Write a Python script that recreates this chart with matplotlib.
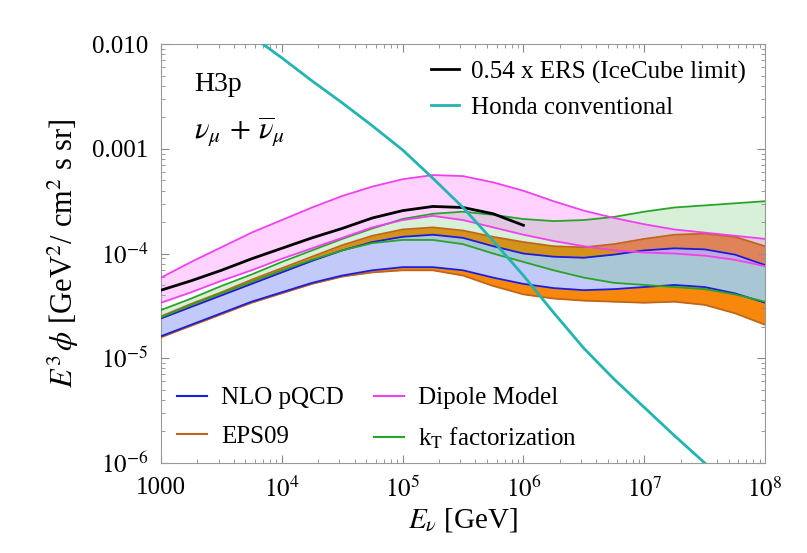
import numpy as np
import matplotlib
matplotlib.use("Agg")
import matplotlib.pyplot as plt
from matplotlib.lines import Line2D

plt.rcParams['font.family'] = ['Liberation Serif', 'DejaVu Serif']
plt.rcParams['mathtext.fontset'] = 'stix'

# log10 of neutrino energy [GeV] where the curves were read
log_e = [3.0, 3.25, 3.5, 3.75, 4.0, 4.25, 4.5, 4.75, 5.0, 5.25, 5.5,
         5.75, 6.0, 6.25, 6.5, 6.75, 7.0, 7.25, 7.5, 7.75, 8.0]

# log10 of E^3 phi for each band edge
nlo_hi = [-4.62, -4.51, -4.40, -4.29, -4.18, -4.07, -3.97, -3.89, -3.84, -3.82, -3.85,
          -3.93, -4.00, -4.03, -4.04, -4.01, -3.97, -3.95, -3.96, -4.01, -4.11]
nlo_lo = [-4.79, -4.68, -4.57, -4.46, -4.37, -4.28, -4.21, -4.16, -4.13, -4.13, -4.16,
          -4.23, -4.29, -4.33, -4.35, -4.34, -4.32, -4.30, -4.32, -4.38, -4.47]
eps_hi = [-4.60, -4.48, -4.37, -4.25, -4.14, -4.03, -3.92, -3.83, -3.77, -3.75, -3.78,
          -3.84, -3.89, -3.93, -3.94, -3.91, -3.86, -3.82, -3.81, -3.84, -3.93]
eps_lo = [-4.80, -4.69, -4.58, -4.47, -4.38, -4.29, -4.22, -4.18, -4.16, -4.16, -4.21,
          -4.31, -4.39, -4.43, -4.45, -4.46, -4.47, -4.46, -4.49, -4.57, -4.68]
dip_hi = [-4.23, -4.08, -3.94, -3.80, -3.68, -3.56, -3.45, -3.36, -3.29, -3.25, -3.26,
          -3.32, -3.40, -3.50, -3.59, -3.66, -3.72, -3.77, -3.80, -3.83, -3.86]
dip_lo = [-4.47, -4.37, -4.26, -4.16, -4.05, -3.95, -3.85, -3.75, -3.68, -3.64, -3.68,
          -3.75, -3.82, -3.88, -3.93, -3.97, -3.99, -4.00, -4.02, -4.06, -4.12]
kt_hi = [-4.54, -4.43, -4.31, -4.20, -4.08, -3.97, -3.86, -3.76, -3.67, -3.62, -3.60,
         -3.63, -3.67, -3.69, -3.68, -3.65, -3.60, -3.56, -3.54, -3.52, -3.50]
kt_lo = [-4.61, -4.49, -4.38, -4.27, -4.16, -4.06, -3.97, -3.90, -3.87, -3.87, -3.91,
         -4.00, -4.08, -4.16, -4.23, -4.28, -4.30, -4.32, -4.34, -4.39, -4.46]

# 0.54 x ERS, only up to 1e6 GeV
ers_log_e = [3.0, 3.25, 3.5, 3.75, 4.0, 4.25, 4.5, 4.75, 5.0, 5.25, 5.5, 5.75, 6.0]
ers_val = [-4.35, -4.26, -4.16, -4.05, -3.95, -3.85, -3.76, -3.66, -3.59, -3.55, -3.56,
           -3.62, -3.73]

# Honda conventional flux
honda_log_e = [3.75, 4.0, 4.25, 4.5, 4.75, 5.0, 5.25, 5.5, 5.75, 6.0, 6.25, 6.5,
               6.75, 7.0, 7.25, 7.5, 7.75]
honda_val = [-1.92, -2.13, -2.35, -2.56, -2.78, -3.01, -3.28, -3.56, -3.88, -4.21,
             -4.565, -4.905, -5.20, -5.47, -5.74, -6.00, -6.26]

E = 10 ** np.array(log_e)
f = lambda a: 10 ** np.array(a)

c_blue = '#1c1ce0'
c_orange_fill = '#f8880c'
c_orange_line = '#c0661c'
c_pink = '#f040f0'
c_green = '#28a428'
c_teal = '#22b5b0'

fig = plt.figure(figsize=(8.07, 5.53), dpi=100)
ax = fig.add_axes([0.1995, 0.163, 0.7485, 0.757])

ax.fill_between(E, f(eps_lo), f(eps_hi), color=c_orange_fill, lw=0, zorder=1)
ax.fill_between(E, f(nlo_lo), f(nlo_hi), color='#c2cafa', lw=0, zorder=2)
ax.fill_between(E, f(kt_lo), f(kt_hi), color='#50bb50', alpha=0.22, lw=0, zorder=3)
ax.fill_between(E, f(dip_lo), f(dip_hi), color='#ff60ff', alpha=0.28, lw=0, zorder=3)

for lo, hi, c in [(eps_lo, eps_hi, c_orange_line), (nlo_lo, nlo_hi, c_blue),
                  (kt_lo, kt_hi, c_green), (dip_lo, dip_hi, c_pink)]:
    ax.plot(E, f(lo), color=c, lw=1.3, zorder=4)
    ax.plot(E, f(hi), color=c, lw=1.3, zorder=4)

ax.plot(10 ** np.array(ers_log_e), f(ers_val), color='black', lw=2.0, zorder=5)
ax.plot(10 ** np.array(honda_log_e), f(honda_val), color=c_teal, lw=2.0, zorder=6)

ax.set_xscale('log')
ax.set_yscale('log')
ax.set_xlim(1e3, 1e8)
ax.set_ylim(1e-6, 1e-2)

ax.set_xticks([1e3, 1e4, 1e5, 1e6, 1e7, 1e8])
ax.set_xticklabels(['1000', '$10^4$', '$10^5$', '$10^6$', '$10^7$', '$10^8$'])
ax.set_yticks([1e-6, 1e-5, 1e-4, 1e-3, 1e-2])
ax.set_yticklabels(['$10^{-6}$', '$10^{-5}$', '$10^{-4}$', '0.001', '0.010'])
ax.tick_params(which='both', direction='in', top=True, right=True, color='#888888',
               labelsize=18)
ax.tick_params(axis='x', pad=10)
ax.tick_params(axis='y', pad=9)
ax.tick_params(which='major', length=6, width=0.8)
ax.tick_params(which='minor', length=3, width=0.6)
for s in ax.spines.values():
    s.set_color('#999999')
    s.set_linewidth(0.8)

ax.set_xlabel(r'$E_\nu$ [GeV]', fontsize=21, labelpad=3)
ax.set_ylabel(r'$E^3\,\phi$ [GeV$^2$/ cm$^2$ s sr]', fontsize=22, labelpad=8)

ax.text(0.055, 0.905, 'H3p', transform=ax.transAxes, fontsize=20, va='center')
ax.text(0.055, 0.79, r'$\nu_\mu\,+\,\overline{\nu}_\mu$', transform=ax.transAxes,
        fontsize=22, va='center')

top_handles = [Line2D([], [], color='black', lw=2.0),
               Line2D([], [], color=c_teal, lw=2.0)]
leg1 = ax.legend(top_handles, ['0.54 x ERS (IceCube limit)', 'Honda conventional'],
                 loc='upper right', bbox_to_anchor=(1.005, 1.015), frameon=False,
                 fontsize=18, handlelength=1.15, handletextpad=0.45, labelspacing=0.5)
ax.add_artist(leg1)

bot_handles = [Line2D([], [], color=c_blue, lw=1.5),
               Line2D([], [], color=c_orange_line, lw=1.5),
               Line2D([], [], color=c_pink, lw=1.5),
               Line2D([], [], color=c_green, lw=1.5)]
ax.legend(bot_handles, ['NLO pQCD', 'EPS09', 'Dipole Model', r'k$_\mathrm{T}$ factorization'],
          loc='lower left', bbox_to_anchor=(-0.01, -0.025), ncol=2, frameon=False,
          fontsize=18, handlelength=1.2, handletextpad=0.55, labelspacing=0.65,
          columnspacing=1.2)

fig.savefig('out.png', dpi=100)
